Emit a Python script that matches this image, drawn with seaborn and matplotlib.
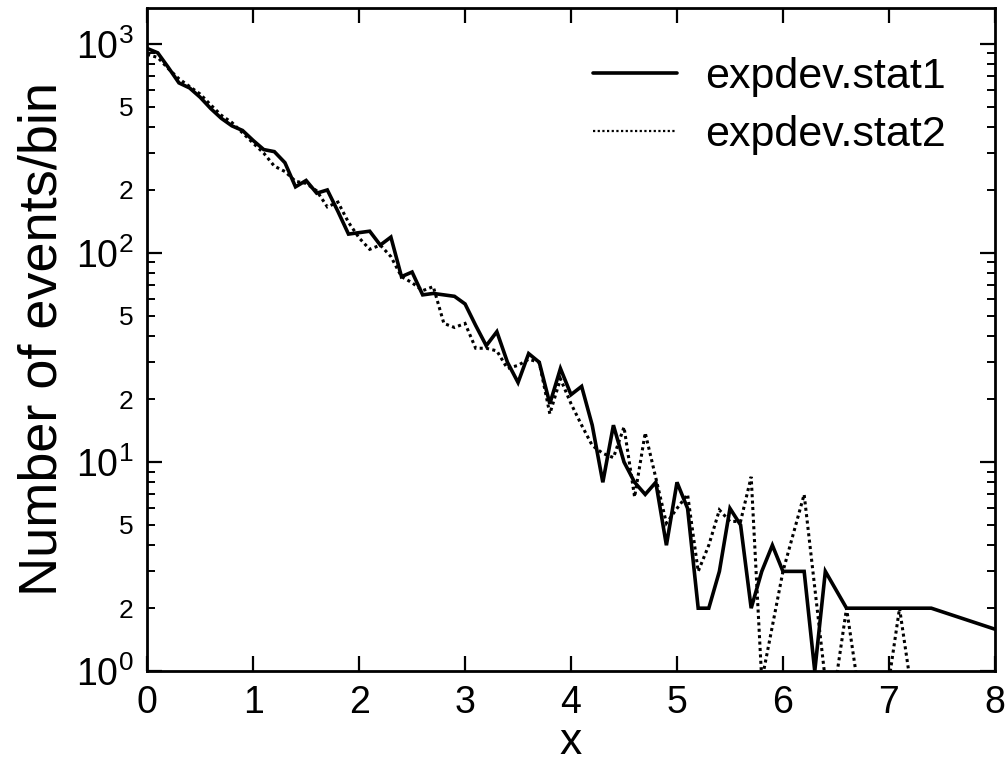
import matplotlib
matplotlib.use("Agg")
import matplotlib.pyplot as plt
import matplotlib.ticker as mticker
import seaborn as sns
import numpy as np

# ---- data ----
x_stat1 = [0.0, 0.1, 0.2, 0.3, 0.4, 0.5, 0.6, 0.7, 0.8, 0.9,
           1.0, 1.1, 1.2, 1.3, 1.4, 1.5, 1.6, 1.7, 1.8, 1.9,
           2.0, 2.1, 2.2, 2.3, 2.4, 2.5, 2.6, 2.7, 2.8, 2.9,
           3.0, 3.1, 3.2, 3.3, 3.4, 3.5, 3.6, 3.7, 3.8, 3.9,
           4.0, 4.1, 4.2, 4.3, 4.4, 4.5, 4.6, 4.7, 4.8, 4.9,
           5.0, 5.1, 5.2, 5.3, 5.4, 5.5, 5.6, 5.7, 5.8, 5.9,
           6.0, 6.1, 6.2, 6.3, 6.4, 6.6, 7.4, 9.2]
y_stat1 = [950, 905, 770, 650, 615, 555, 490, 440, 405, 385,
           345, 312, 305, 270, 207, 222, 193, 200, 158, 123,
           125, 127, 109, 119, 77, 81, 63, 64, 63, 62,
           57, 45, 36, 42, 30, 24, 33, 30, 19, 28,
           21, 23, 15, 8, 15, 10, 8, 7, 8, 4,
           8, 6, 2, 2, 3, 6, 5, 2, 3, 4,
           3, 3, 3, 1, 3, 2, 2, 1]

x_stat2 = [0.0, 0.1, 0.2, 0.3, 0.4, 0.5, 0.6, 0.7, 0.8, 0.9,
           1.0, 1.1, 1.2, 1.3, 1.4, 1.5, 1.6, 1.7, 1.8, 1.9,
           2.0, 2.1, 2.2, 2.3, 2.4, 2.5, 2.6, 2.7, 2.8, 2.9,
           3.0, 3.1, 3.2, 3.3, 3.4, 3.5, 3.6, 3.7, 3.8, 3.9,
           4.0, 4.1, 4.2, 4.3, 4.4, 4.5, 4.6, 4.7, 4.8, 4.9,
           5.0, 5.1, 5.2, 5.3, 5.4, 5.5, 5.6, 5.7, 5.8, 6.0,
           6.2, 6.4, 6.5, 6.6, 6.7, 7.0, 7.1, 7.2]
y_stat2 = [890, 860, 760, 680, 625, 575, 510, 455, 420, 375,
           335, 300, 260, 245, 220, 215, 198, 166, 175, 140,
           118, 104, 109, 96, 77, 72, 66, 69, 46, 44,
           46, 35, 35, 34, 28, 29, 31, 30, 17, 25,
           19, 15, 12, 11, 10.5, 14.7, 6.8, 13.8, 8.4, 5.1,
           6, 7, 3, 4, 5.9, 5.2, 5.2, 8.5, 0.9, 3,
           7, 0.9, 0.9, 2, 0.9, 0.9, 2, 0.9]

series_labels = ["expdev.stat1", "expdev.stat2"]
x_ticks = [0, 1, 2, 3, 4, 5, 6, 7, 8]

# ---- styling ----
sns.set_theme(style="ticks")
plt.rcParams["font.family"] = ["Liberation Sans", "DejaVu Sans"]
plt.rcParams["mathtext.fontset"] = "custom"
plt.rcParams["mathtext.rm"] = "Liberation Sans"
plt.rcParams["mathtext.it"] = "Liberation Sans"

fig = plt.figure(figsize=(10.08, 7.75), dpi=100)
ax = fig.add_axes([0.146, 0.134, 0.841, 0.856])

sns.lineplot(x=x_stat1, y=y_stat1, ax=ax, color="black", linewidth=2.6,
             estimator=None, sort=False, label=series_labels[0])
sns.lineplot(x=x_stat2, y=y_stat2, ax=ax, color="black", linewidth=2.2,
             estimator=None, sort=False, label=series_labels[1])
ax.lines[0].set_solid_joinstyle("miter")
ax.lines[1].set_linestyle((0, (1.0, 1.1)))
ax.lines[1].set_dash_joinstyle("miter")
ax.lines[1].set_dash_capstyle("butt")

ax.set_yscale("log")
ax.set_xlim(0, 8)
ax.set_ylim(1, 1487)

ax.set_xticks(x_ticks)
ax.set_xticklabels([str(t) for t in x_ticks])
ax.yaxis.set_major_locator(mticker.LogLocator(base=10, numticks=10))
ax.yaxis.set_minor_locator(mticker.LogLocator(base=10, subs=np.arange(2, 10), numticks=20))

def major_fmt(v, pos):
    e = int(round(np.log10(v)))
    return r"$10^{%d}$" % e

def minor_fmt(v, pos):
    e = np.floor(np.log10(v) + 1e-9)
    m = int(round(v / 10 ** e))
    return str(m) if m in (2, 5) else ""

ax.yaxis.set_major_formatter(mticker.FuncFormatter(major_fmt))
ax.yaxis.set_minor_formatter(mticker.FuncFormatter(minor_fmt))

ax.tick_params(axis="both", which="major", direction="in", length=11, width=1.6,
               top=True, right=True, labelsize=27, pad=10, colors="black")
ax.tick_params(axis="y", which="minor", direction="in", length=6, width=1.4,
               right=True, labelsize=19, pad=10, colors="black")
ax.tick_params(axis="x", which="minor", bottom=False, top=False)

for s in ax.spines.values():
    s.set_visible(True)
    s.set_linewidth(2.0)
    s.set_color("black")
    s.set_zorder(5)

ax.set_xlabel("x", fontsize=32, labelpad=1, color="black")
ax.set_ylabel("Number of events/bin", fontsize=39, labelpad=6, color="black")

leg = ax.legend(loc="upper right", frameon=False, fontsize=31, handlelength=1.95,
                handletextpad=0.65, labelspacing=0.42, borderaxespad=0.75)
leg.get_lines()[1].set_linewidth(1.6)
for t in leg.get_texts():
    t.set_color("black")

ax.set_facecolor("white")
fig.patch.set_facecolor("white")
fig.savefig("out.png", dpi=100, facecolor="white")
